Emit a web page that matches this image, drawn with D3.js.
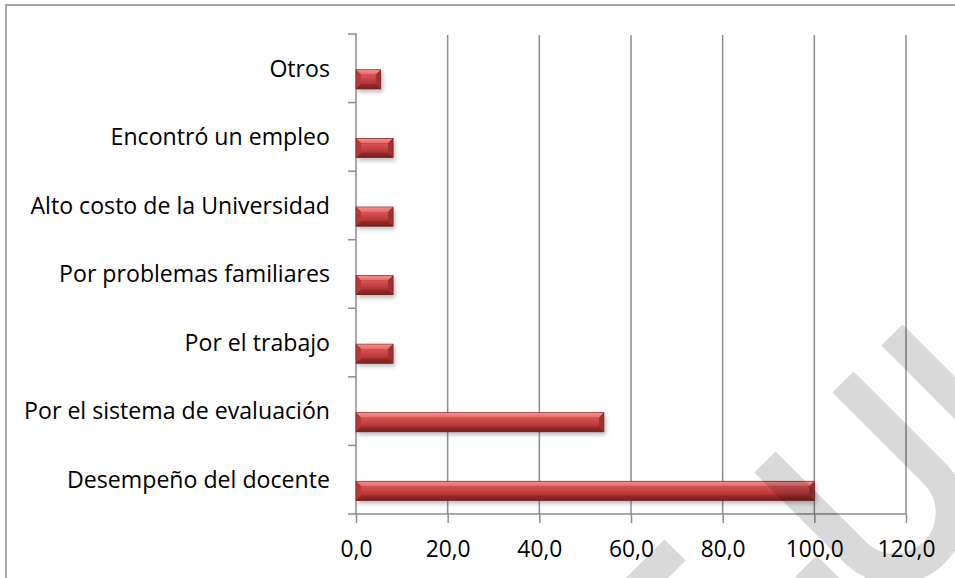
<!DOCTYPE html>
<html>
<head>
<meta charset="utf-8">
<script src="https://cdn.jsdelivr.net/npm/d3@7"></script>
<style>
  body { margin: 0; background: #fff; }
  svg { display: block; }
</style>
</head>
<body>
<svg id="chart" width="955" height="578"></svg>
<script>
const categories = [
    'Otros',
    'Encontró un empleo',
    'Alto costo de la Universidad',
    'Por problemas familiares',
    'Por el trabajo',
    'Por el sistema de evaluación',
    'Desempeño del docente'
]
const values = [5.4, 8.1, 8.1, 8.1, 8.1, 54.1, 100.0]
const xTicks = [0, 20, 40, 60, 80, 100, 120]

const svg = d3.select('#chart')
const font = '"Open Sans", "Noto Sans", sans-serif'
const gridColor = '#8c8c8c'

const margin = {top: 34, left: 356, right: 49, bottom: 64}
const width = 955 - margin.left - margin.right
const height = 578 - margin.top - margin.bottom

const x = d3.scaleLinear().domain([0, 120]).range([margin.left, margin.left + width])
const y = d3.scaleBand().domain(categories).range([margin.top, margin.top + height])

const locale = d3.formatLocale({decimal: ',', thousands: '.', grouping: [3], currency: ['', '']})
const fmt = locale.format('.1f')

// font size that gives a text a wanted width (the original used Calibri)
function fitSize(text, targetWidth) {
    const t = svg.append('text').attr('font-family', font).attr('font-size', 20).text(text)
    const w = t.node().getComputedTextLength()
    t.remove()
    return 20 * targetWidth / w
}
const labelSize = fitSize('Por el sistema de evaluación', 306)
const tickSize = fitSize('100,0', 58)

// chart frame
svg.append('rect')
    .attr('x', 6).attr('y', 5)
    .attr('width', 970).attr('height', 600)
    .attr('fill', '#fff')
    .attr('stroke', '#a6a6a6')
    .attr('stroke-width', 2)

const defs = svg.append('defs')
const grad = (id, stops) => {
    const g = defs.append('linearGradient').attr('id', id)
        .attr('x1', 0).attr('y1', 0).attr('x2', 0).attr('y2', 1)
    stops.forEach(s => g.append('stop').attr('offset', s[0]).attr('stop-color', s[1]))
}
grad('face', [[0, '#d95454'], [0.5, '#c74343'], [1, '#ad3333']])
grad('topBevel', [[0, '#f4918f'], [1, '#e86a69']])
grad('botBevel', [[0, '#9a2a2a'], [1, '#7d1e1e']])
defs.append('filter').attr('id', 'shadow')
    .attr('x', '-10%').attr('y', '-50%').attr('width', '130%').attr('height', '250%')
    .append('feGaussianBlur').attr('stdDeviation', 2.2)

// vertical gridlines
svg.append('g')
    .selectAll('line')
    .data(xTicks.slice(1))
    .join('line')
    .attr('x1', d => x(d)).attr('x2', d => x(d))
    .attr('y1', margin.top + 1).attr('y2', margin.top + height)
    .attr('stroke', gridColor)
    .attr('stroke-width', 1.5)

// x axis
const xAxis = svg.append('g')
    .attr('transform', `translate(0,${margin.top + height})`)
    .call(d3.axisBottom(x).tickValues(xTicks).tickFormat(fmt).tickSize(9).tickPadding(18).tickSizeOuter(0))
xAxis.select('.domain').attr('stroke', gridColor).attr('stroke-width', 1.5)
    .attr('d', `M${margin.left - 8},0H${margin.left + width}`)
xAxis.selectAll('.tick line').attr('stroke', gridColor).attr('stroke-width', 1.5)
xAxis.selectAll('.tick text')
    .attr('font-family', font).attr('font-size', tickSize).attr('fill', '#000')

// y axis with ticks between categories
const yAxis = svg.append('g')
    .attr('transform', `translate(${margin.left},0)`)
    .call(d3.axisLeft(y).tickSize(0).tickPadding(26))
yAxis.select('.domain').attr('stroke', gridColor).attr('stroke-width', 1.5)
    .attr('d', `M-8,${margin.top}H0V${margin.top + height}`)
yAxis.selectAll('.tick text')
    .attr('font-family', font).attr('font-size', labelSize).attr('fill', '#000')
    .attr('dy', '0.36em')
yAxis.selectAll('line.sep')
    .data(categories.slice(1))
    .join('line')
    .attr('class', 'sep')
    .attr('x1', -8).attr('x2', 0)
    .attr('y1', d => y(d)).attr('y2', d => y(d))
    .attr('stroke', gridColor).attr('stroke-width', 1.5)

// bevelled bars
const barH = y.bandwidth() * 0.28
const barY = d => y(d) + y.bandwidth() / 2 + 1.5
const bars = svg.append('g')
    .selectAll('g')
    .data(categories.map((c, i) => ({c, v: values[i]})))
    .join('g')

bars.append('rect')
    .attr('x', x(0) + 2).attr('y', d => barY(d.c) + 3)
    .attr('width', d => x(d.v) - x(0)).attr('height', barH)
    .attr('fill', '#555').attr('opacity', 0.4)
    .attr('filter', 'url(#shadow)')

bars.each(function(d) {
    const g = d3.select(this)
    const x0 = x(0), x1 = x(d.v), y0 = barY(d.c), y1 = y0 + barH
    const b = Math.min(5, (x1 - x0) / 3)
    const poly = (pts, fill) => g.append('path')
        .attr('d', 'M' + pts.map(p => p.join(',')).join('L') + 'Z')
        .attr('fill', fill)
    poly([[x0, y0], [x1, y0], [x1, y1], [x0, y1]], '#8f2626')
    poly([[x0, y0], [x1, y0], [x1 - b, y0 + b], [x0 + b, y0 + b]], 'url(#topBevel)')
    poly([[x0, y1], [x1, y1], [x1 - b, y1 - b], [x0 + b, y1 - b]], 'url(#botBevel)')
    poly([[x0, y0], [x0 + b, y0 + b], [x0 + b, y1 - b], [x0, y1]], '#b63a3a')
    poly([[x1, y0], [x1 - b, y0 + b], [x1 - b, y1 - b], [x1, y1]], '#a13030')
    g.append('rect')
        .attr('x', x0 + b).attr('y', y0 + b)
        .attr('width', Math.max(0, x1 - x0 - 2 * b)).attr('height', barH - 2 * b)
        .attr('fill', 'url(#face)')
    g.append('rect')
        .attr('x', x0).attr('y', y0)
        .attr('width', x1 - x0).attr('height', barH)
        .attr('fill', 'none').attr('stroke', '#7a1f1f').attr('stroke-width', 0.6)
})

// page watermark drawn over the chart
const mark = svg.append('g')
    .attr('fill', 'none').attr('stroke', '#000').attr('stroke-opacity', 0.15)
    .attr('stroke-width', 30)
mark.append('path').attr('d', 'M892,335L1030,473')
mark.append('path').attr('d', 'M843,382L937,476A56,56 0 0,1 858,555L765,462')
mark.append('path').attr('d', 'M675,550L625,600')
mark.append('path').attr('d', 'M806,566L850,610')
</script>
</body>
</html>
